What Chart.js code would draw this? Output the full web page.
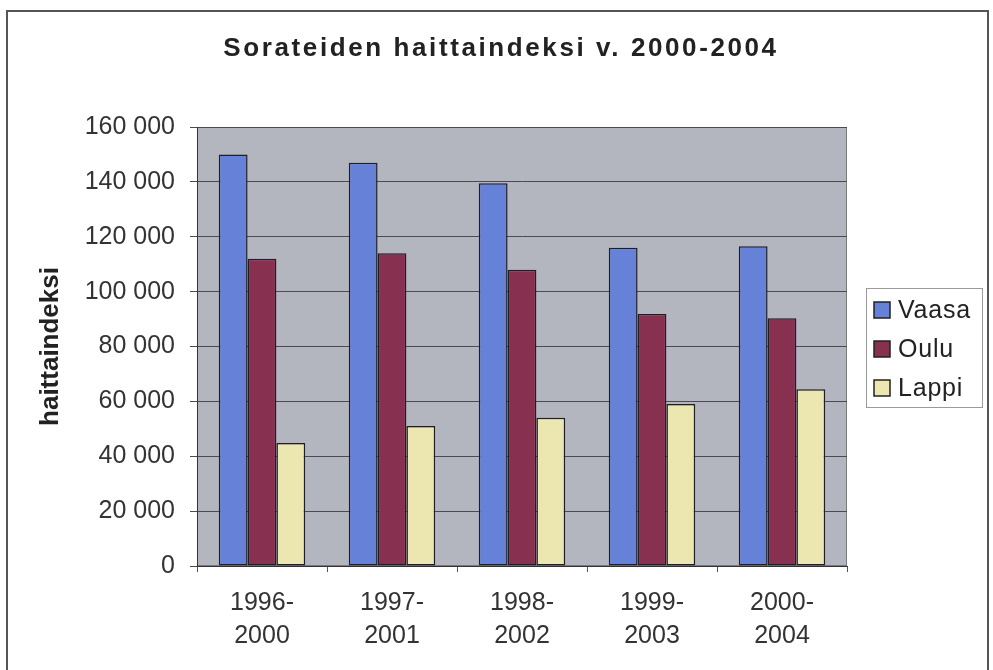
<!DOCTYPE html>
<html>
<head>
<meta charset="utf-8">
<script src="https://cdn.jsdelivr.net/npm/chart.js@4.4.1/dist/chart.umd.min.js"></script>
<style>
  html, body { margin: 0; padding: 0; background: #fff; }
  #wrap { width: 993px; height: 670px; }
</style>
</head>
<body>
<div id="wrap"><canvas id="haittaChart" width="993" height="670"></canvas></div>
<script>
// periods on the x axis (two-line labels)
var periods = [["1996-", "2000"], ["1997-", "2001"], ["1998-", "2002"], ["1999-", "2003"], ["2000-", "2004"]];

// haittaindeksi per region
var vaasa = [150000, 147000, 139500, 116000, 116500];
var oulu  = [112000, 114000, 108000, 91800, 90300];
var lappi = [44800, 51000, 54000, 59000, 64400];

var yTicksMax = 160000;
var yTicksStep = 20000;

var chartTitle = "Sorateiden haittaindeksi v. 2000-2004";
var yTitle = "haittaindeksi";

function spaced(n) {
    return String(n).replace(/\B(?=(\d{3})+(?!\d))/g, " ");
}

// white page, outer frame, grey plot area
var framePlugin = {
    id : 'frame',
    beforeDraw : function(chart) {
	var ctx = chart.ctx, a = chart.chartArea;
	ctx.save();
	ctx.fillStyle = '#ffffff';
	ctx.fillRect(0, 0, chart.width, chart.height);
	ctx.strokeStyle = '#555555';
	ctx.lineWidth = 2;
	ctx.strokeRect(7, 11, 981, 700);
	ctx.fillStyle = '#b3b5bf';
	ctx.fillRect(a.left, a.top, a.right - a.left, a.bottom - a.top);
	ctx.strokeStyle = '#7a7a80';
	ctx.lineWidth = 1;
	ctx.strokeRect(a.left + 0.5, a.top + 0.5, a.right - a.left - 1, a.bottom - a.top - 1);
	ctx.restore();
    },
    afterDraw : function(chart) {
	var ctx = chart.ctx;
	// title with a little letter spacing
	ctx.save();
	ctx.font = 'bold 26px "Liberation Sans", Arial, sans-serif';
	ctx.letterSpacing = '2.6px';
	ctx.fillStyle = '#222222';
	ctx.textAlign = 'center';
	ctx.textBaseline = 'alphabetic';
	ctx.fillText(chartTitle, 501, 56);
	ctx.restore();

	// legend box on the right
	ctx.save();
	ctx.strokeStyle = '#9a9a9a';
	ctx.lineWidth = 1;
	ctx.strokeRect(866.5, 288.5, 116, 119);
	ctx.font = '25px "Liberation Sans", Arial, sans-serif';
	ctx.letterSpacing = '0.8px';
	ctx.textBaseline = 'middle';
	ctx.textAlign = 'left';
	chart.data.datasets.forEach(function(ds, i) {
	    var y = 310 + i * 39;
	    ctx.fillStyle = ds.backgroundColor;
	    ctx.fillRect(874, y - 8, 16, 16);
	    ctx.strokeStyle = '#222222';
	    ctx.lineWidth = 1.5;
	    ctx.strokeRect(874, y - 8, 16, 16);
	    ctx.fillStyle = '#222222';
	    ctx.fillText(ds.label, 898, y + 1);
	});
	ctx.restore();
    }
};

var ctx = document.getElementById("haittaChart");
var chart = new Chart(ctx, {
    type : 'bar',
    data : {
	labels : periods,
	datasets : [ {
	    label : "Vaasa",
	    data : vaasa,
	    backgroundColor : '#6682d8',
	    borderColor : '#1e1e28',
	    borderWidth : 1.5,
	    borderSkipped : false
	}, {
	    label : "Oulu",
	    data : oulu,
	    backgroundColor : '#883050',
	    borderColor : '#1e1e28',
	    borderWidth : 1.5,
	    borderSkipped : false
	}, {
	    label : "Lappi",
	    data : lappi,
	    backgroundColor : '#ece7b0',
	    borderColor : '#1e1e28',
	    borderWidth : 1.5,
	    borderSkipped : false
	} ]
    },
    options : {
	responsive : false,
	animation : false,
	layout : {
	    padding : { top : 127, right : 146, bottom : 0, left : 0 }
	},
	datasets : {
	    bar : { categoryPercentage : 0.665, barPercentage : 1.0 }
	},
	plugins : {
	    legend : { display : false },
	    title : { display : false },
	    tooltip : { enabled : false }
	},
	scales : {
	    x : {
		grid : {
		    offset : true,
		    drawOnChartArea : false,
		    drawTicks : true,
		    tickLength : 6,
		    color : '#555555'
		},
		border : { display : true, color : '#333333', width : 1 },
		ticks : {
		    color : '#333333',
		    padding : 15,
		    maxRotation : 0,
		    font : { family : '"Liberation Sans", Arial, sans-serif', size : 25, lineHeight : 1.32 }
		},
		afterFit : function(scale) { scale.height = 104; }
	    },
	    y : {
		min : 0,
		max : yTicksMax,
		grid : {
		    color : '#4a4a52',
		    lineWidth : 1,
		    tickLength : 7
		},
		border : { display : true, color : '#333333', width : 1 },
		ticks : {
		    stepSize : yTicksStep,
		    color : '#333333',
		    padding : 15,
		    font : { family : '"Liberation Sans", Arial, sans-serif', size : 25 },
		    callback : function(v) { return spaced(v); }
		},
		title : {
		    display : true,
		    text : yTitle,
		    color : '#222222',
		    padding : { top : 35, bottom : 0 },
		    font : { family : '"Liberation Sans", Arial, sans-serif', size : 26, weight : 'bold' }
		},
		afterFit : function(scale) { scale.width = 197; }
	    }
	}
    },
    plugins : [ framePlugin ]
});
</script>
</body>
</html>
